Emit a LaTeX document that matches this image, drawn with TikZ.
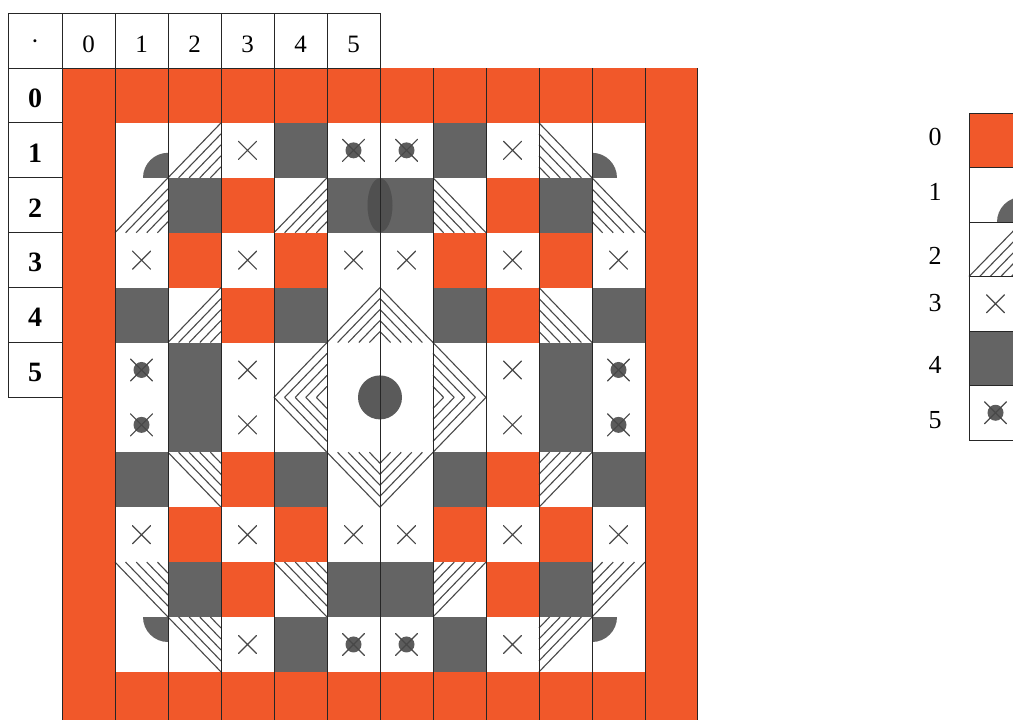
\documentclass[tikz,border=0pt]{standalone}
\usepackage{fontspec}
\setmainfont{Liberation Serif}
\definecolor{org}{RGB}{241,88,42}
\definecolor{drk}{RGB}{100,100,100}
\definecolor{drkb}{RGB}{80,80,80}
\definecolor{pen}{RGB}{72,72,72}
\definecolor{dotc}{RGB}{92,92,92}
\tikzset{
  gridline/.style={draw=black!85, line width=1pt},
  hatchline/.style={draw=pen, line width=1.1pt},
  crossline/.style={draw=pen, line width=1.2pt, line cap=round},
  hdr/.style={font=\fontsize{25}{28}\selectfont, inner sep=0pt},
  rowlbl/.style={font=\fontsize{28}{30}\selectfont\bfseries, inner sep=0pt},
  leglbl/.style={font=\fontsize{26}{30}\selectfont, inner sep=0pt},
}
\newcommand\cellO[2]{\fill[org] (#1,#2) rectangle (#1+1,#2+1);}
\newcommand\cellW[2]{}
\newcommand\cellD[2]{\fill[drk] (#1,#2) rectangle (#1+1,#2+1);}
\newcommand\cellX[2]{\draw[crossline] (#1+0.5,#2+0.5) +(-9pt,-9pt) -- +(9pt,9pt) +(-9pt,9pt) -- +(9pt,-9pt);}
\newcommand\cellC[2]{\fill[dotc] (#1+0.5,#2+0.5) circle[radius=8pt];
  \draw[crossline] (#1+0.5,#2+0.5) +(-11pt,-11pt) -- +(11pt,11pt) +(-11pt,11pt) -- +(11pt,-11pt);}
\newcommand\cellhBR[2]{\foreach \hh in {0,0.2,0.4,0.6,0.8}{\draw[hatchline] (#1+\hh,#2+1) -- (#1+1,#2+\hh);}}
\newcommand\cellhBL[2]{\foreach \hh in {0,0.2,0.4,0.6,0.8}{\draw[hatchline] (#1,#2+\hh) -- (#1+1-\hh,#2+1);}}
\newcommand\cellhTR[2]{\foreach \hh in {0,0.2,0.4,0.6,0.8}{\draw[hatchline] (#1+\hh,#2) -- (#1+1,#2+1-\hh);}}
\newcommand\cellhTL[2]{\foreach \hh in {0,0.2,0.4,0.6,0.8}{\draw[hatchline] (#1,#2+1-\hh) -- (#1+1-\hh,#2);}}
\newcommand\quarterdisk[4]{\begin{scope}\clip (#1,#2) rectangle (#1+1,#2+1); \fill[drk] (#3,#4) circle[radius=25pt];\end{scope}}
\newcommand\cellqBR[2]{\quarterdisk{#1}{#2}{#1+1}{#2+1}}
\newcommand\cellqBL[2]{\quarterdisk{#1}{#2}{#1}{#2+1}}
\newcommand\cellqTR[2]{\quarterdisk{#1}{#2}{#1+1}{#2}}
\newcommand\cellqTL[2]{\quarterdisk{#1}{#2}{#1}{#2}}
\begin{document}
\begin{tikzpicture}[x=1pt,y=-1pt]
\useasboundingbox (0,0) rectangle (1013,720);
\clip (0,0) rectangle (1013,720);
\fill[white] (0,0) rectangle (1013,720);
% main grid
\begin{scope}[shift={(62,68)}, x=53pt, y=-54.9pt]
\foreach \row [count=\gr from 0] in {
 {O,O,O,O,O,O,O,O,O,O,O,O},
 {O,qBR,hBR,X,D,C,C,D,X,hBL,qBL,O},
 {O,hBR,D,O,hBR,D,D,hBL,O,D,hBL,O},
 {O,X,O,X,O,X,X,O,X,O,X,O},
 {O,D,hBR,O,D,hBR,hBL,D,O,hBL,D,O},
 {O,C,D,X,hBR,W,W,hBL,X,D,C,O},
 {O,C,D,X,hTR,W,W,hTL,X,D,C,O},
 {O,D,hTR,O,D,hTR,hTL,D,O,hTL,D,O},
 {O,X,O,X,O,X,X,O,X,O,X,O},
 {O,hTR,D,O,hTR,D,D,hTL,O,D,hTL,O},
 {O,qTR,hTR,X,D,C,C,D,X,hTL,qTL,O},
 {O,O,O,O,O,O,O,O,O,O,O,O}}{
  \foreach \t [count=\gc from 0] in \row {\csname cell\t\endcsname{\gc}{\gr}}
}
\fill[drkb] (6,2.5) ellipse[x radius=12.5pt, y radius=27pt];
\fill[drk!90!black] (6,6) circle[radius=22pt];
\draw[gridline, step=1] (0,0) grid (12,12);
\end{scope}
% top table
\draw[gridline] (8,13) rectangle (380,68);
\foreach \xx in {62,115,168,221,274,327}{\draw[gridline] (\xx,13) -- (\xx,68);}
\draw[gridline] (8,68) -- (8,397.4) -- (62,397.4);
\foreach \rr in {1,...,5}{\draw[gridline] (8,68+54.9*\rr) -- (62,68+54.9*\rr);}
\node[hdr] (hdot) at (35,45) {·};
\foreach \lab [count=\i from 0] in {0,1,2,3,4,5}{
  \node[hdr] (h\lab) at (88.5+53*\i,44) {\lab};
  \node[rowlbl] (r\lab) at (35,98+54.9*\i) {\lab};
}
% legend
\begin{scope}[shift={(969,113)}, x=53pt, y=-54.5pt]
\cellO{0}{0}
\cellqBR{0}{1}
\cellhBR{0}{2}
\cellX{0}{3}
\cellD{0}{4}
\cellC{0}{5}
\draw[gridline] (0,0) rectangle (1,6);
\foreach \rr in {1,...,5}{\draw[gridline] (0,\rr) -- (1,\rr);}
\end{scope}
\node[leglbl] (l0) at (935,137) {0};
\node[leglbl] (l1) at (935,192) {1};
\node[leglbl] (l2) at (935,256) {2};
\node[leglbl] (l3) at (935,303) {3};
\node[leglbl] (l4) at (935,365) {4};
\node[leglbl] (l5) at (935,420) {5};
\end{tikzpicture}
\end{document}
